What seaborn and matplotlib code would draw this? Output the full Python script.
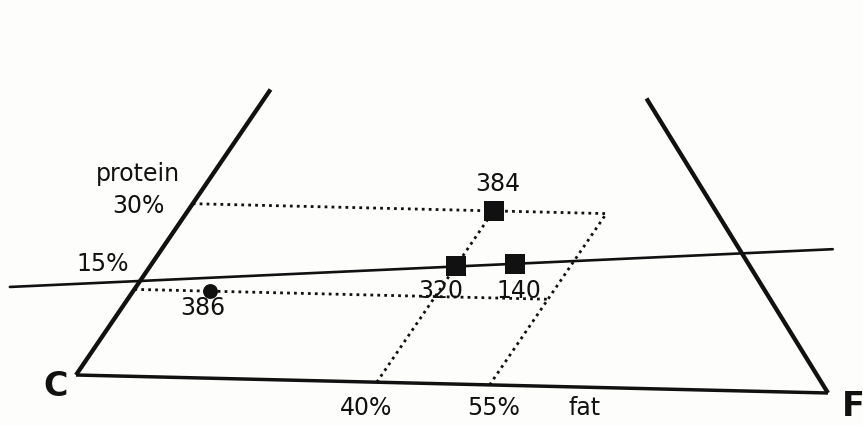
import numpy as np
import pandas as pd
import matplotlib
matplotlib.use("Agg")
import matplotlib.pyplot as plt
import seaborn as sns

# Food compositions (percent of energy from fat and protein)
foods = ["384", "320", "140", "386"]
fat_pct = [40, 40, 47.5, 10]
protein_pct = [30, 20.3, 21, 15]
marker_kind = ["square", "square", "square", "circle"]

# Guide levels drawn as dotted lines
guide_fat = [40, 55]
guide_protein = [15, 30]

# Reference line through the diagram (fat %, protein %)
line_fat = [-16.5, 87.8]
line_protein = [14.9, 24.8]

# Truncation of the two side edges (protein %)
edge_top_protein = 50

# Projection of (fat, protein) onto the page
ORIGIN = np.array([76.0, 375.0])
FAT_STEP = np.array([7.52, 0.18])
PROT_STEP = np.array([3.89, -5.71])


def project(fat, protein):
    fat = np.asarray(fat, dtype=float)
    protein = np.asarray(protein, dtype=float)
    x = ORIGIN[0] + fat * FAT_STEP[0] + protein * PROT_STEP[0]
    y = ORIGIN[1] + fat * FAT_STEP[1] + protein * PROT_STEP[1]
    return x, y


sns.set_theme(style="white")
plt.rcParams["font.family"] = ["DejaVu Sans"]

INK = "#111111"
PAPER = "#fdfdfc"

fig = plt.figure(figsize=(8.63, 4.25), dpi=100)
fig.patch.set_facecolor(PAPER)
ax = fig.add_axes([0, 0, 1, 1])
ax.set_facecolor(PAPER)
ax.set_xlim(0, 863)
ax.set_ylim(425, 0)
ax.axis("off")

# Triangle edges: base C-F, left edge (fat 0), right edge (carbohydrate 0)
edges = pd.DataFrame({
    "edge": ["base", "base", "left", "left", "right", "right"],
    "fat": [0, 100, 0, 0, 100, 100 - edge_top_protein],
    "protein": [0, 0, 0, edge_top_protein, 0, edge_top_protein],
})
edges["x"], edges["y"] = project(edges["fat"], edges["protein"])
for name, grp in edges.groupby("edge"):
    lw = 2.5 if name == "base" else 3.1
    sns.lineplot(data=grp, x="x", y="y", sort=False, ax=ax, color=INK,
                 linewidth=lw, solid_capstyle="butt", legend=False)

# Dotted guides: constant protein from the left edge, constant fat from the base
dot = (0, (1.0, 1.5))
for p in guide_protein:
    x, y = project([0, max(guide_fat)], [p, p])
    ax.plot(x, y, color=INK, linewidth=2.0, linestyle=dot)
for f in guide_fat:
    x, y = project([f, f], [0, max(guide_protein)])
    ax.plot(x, y, color=INK, linewidth=2.0, linestyle=dot)

# Solid reference line
lx, ly = project(line_fat, line_protein)
ax.plot(lx, ly, color=INK, linewidth=1.9)

# Food points
pts = pd.DataFrame({"food": foods, "fat": fat_pct, "protein": protein_pct,
                    "kind": marker_kind})
pts["x"], pts["y"] = project(pts["fat"], pts["protein"])
sns.scatterplot(data=pts[pts["kind"] == "square"], x="x", y="y", marker="s",
                s=200, color=INK, edgecolor=INK, linewidth=0, ax=ax,
                legend=False, zorder=5)
sns.scatterplot(data=pts[pts["kind"] == "circle"], x="x", y="y", marker="o",
                s=115, color=INK, edgecolor=INK, linewidth=0, ax=ax,
                legend=False, zorder=5)

offsets = {"384": (4, 27), "320": (-15, -25), "140": (4, -27), "386": (-7, -17)}
for _, r in pts.iterrows():
    ax.annotate(r["food"], (r["x"], r["y"]), xytext=offsets[r["food"]],
                textcoords="offset pixels", ha="center", va="center",
                fontsize=17, color=INK)

# Axis labels
txt = dict(color=INK, fontsize=17, va="center")
ax.text(138, 174, "protein", ha="center", **txt)
ax.text(138, 206, "30%", ha="center", **txt)
ax.text(103, 264, "15%", ha="center", **txt)
ax.text(366, 408, "40%", ha="center", **txt)
ax.text(494, 408, "55%", ha="center", **txt)
ax.text(585, 408, "fat", ha="center", **txt)
ax.text(56, 386, "C", ha="center", va="center", fontsize=24,
        fontweight="bold", color=INK)
ax.text(853, 407, "F", ha="center", va="center", fontsize=24,
        fontweight="bold", color=INK)

fig.savefig("out.png", dpi=100, facecolor=fig.get_facecolor())
